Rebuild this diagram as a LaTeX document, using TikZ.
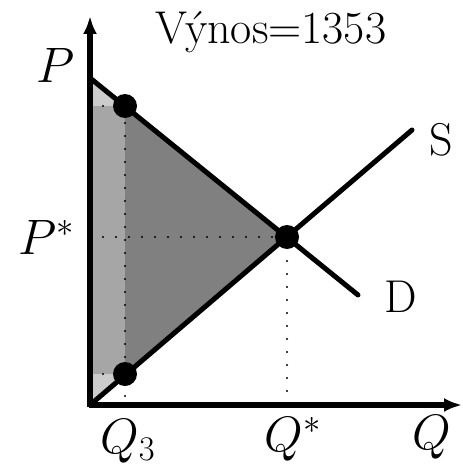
\documentclass[tikz,border=0pt]{standalone}
\usepackage{amsmath}
\usepackage{tikz}
\usetikzlibrary{positioning,arrows.meta}
\definecolor{lightarea}{gray}{0.80}
\definecolor{midarea}{gray}{0.65}
\definecolor{darkarea}{gray}{0.50}

\begin{document}
\begin{tikzpicture}[x=0.5pt, y=-0.5pt,
        axis/.style={line width=3pt, -{Latex[length=9pt, width=7pt]}},
        curve/.style={line width=2.5pt, line cap=round},
        guide/.style={line width=1.2pt, line cap=round, dash pattern=on 0pt off 6.5pt},
        dot/.style={circle, fill=black, inner sep=0pt, minimum size=12pt},
        lbl/.style={font=\fontsize{23}{26}\selectfont, inner sep=0pt},
      ]
      \useasboundingbox (0,0) rectangle (462,465);

      % key points
      \coordinate (origin) at (90,405);
      \coordinate (dtop) at (90,78);
      \coordinate (dend) at (358,295);
      \coordinate (send) at (412,130);
      \coordinate (ytip) at (90,16);
      \coordinate (xtip) at (462,405);
      \coordinate (ptop) at (90,106);
      \coordinate (pbot) at (90,374);
      \coordinate (q3) at (125,405);
      \coordinate (pstar) at (90,237);
      \coordinate (qstar) at (287,405);

      % shaded areas
      \fill[lightarea] (dtop) -- (287,237) -- (origin) -- cycle;
      \fill[darkarea] (125,106) -- (287,237) -- (125,374) -- cycle;
      \fill[midarea] (ptop) rectangle (125,374);

      % guide lines
      \draw[guide] (pstar) -- (287,237) -- (qstar);
      \draw[guide] (ptop) -- (125,106) -- (q3);
      \draw[guide] (pbot) -- (125,374);

      % demand and supply
      \draw[curve] (dtop) -- (dend);
      \draw[curve] (origin) -- (send);

      \node[dot] (eq) at (287,237) {};
      \node[dot] (upper) at (125,106) {};
      \node[dot] (lower) at (125,374) {};

      % axes
      \draw[axis] (90,407) -- (ytip);
      \draw[axis] (88.5,405) -- (xtip);

      % labels
      \node[lbl] (title) at (271,32) {V\'ynos=1353};
      \node[lbl] (plabel) at (56,65) {$P$};
      \node[lbl] (pslabel) at (47,237) {$P^{*}$};
      \node[lbl] (q3label) at (128,441) {$Q_{3}$};
      \node[lbl] (qslabel) at (293,439) {$Q^{*}$};
      \node[lbl] (qlabel) at (432,437) {$Q$};
      \node[lbl] (slabel) at (441,140) {S};
      \node[lbl] (dlabel) at (401,297) {D};
    \end{tikzpicture}
\end{document}
